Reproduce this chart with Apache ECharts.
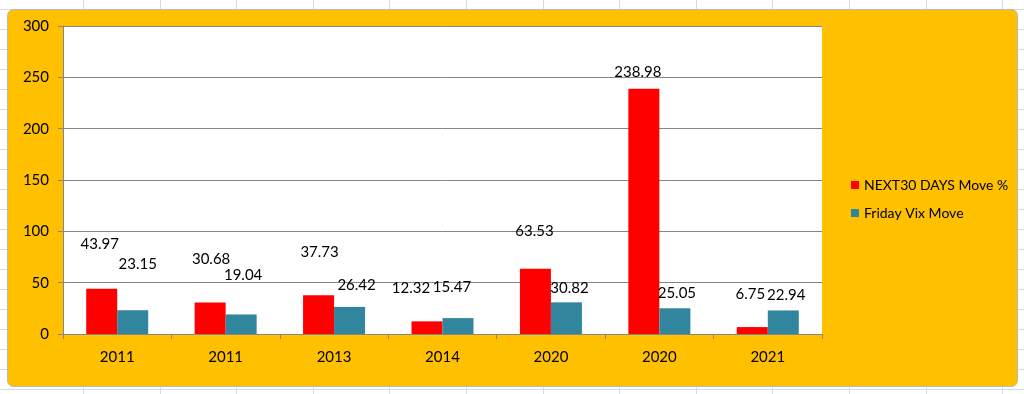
<!DOCTYPE html>
<html>
<head>
<meta charset="utf-8">
<script src="https://cdn.jsdelivr.net/npm/echarts@6/dist/echarts.min.js"></script>
<style>
html,body{margin:0;padding:0;background:#fff;}
#chart{width:1024px;height:394px;}
</style>
</head>
<body>
<div id="chart"></div>
<script>
// ---- data ----
const categories = ['2011', '2011', '2013', '2014', '2020', '2020', '2021'];
const next30Move = [43.97, 30.68, 37.73, 12.32, 63.53, 238.98, 6.75];
const fridayVixMove = [23.15, 19.04, 26.42, 15.47, 30.82, 25.05, 22.94];
const seriesNames = ['NEXT30 DAYS Move %', 'Friday Vix Move'];
const yTicks = { min: 0, max: 300, interval: 50 };

// ---- label placement tweaks (style only, pixels) ----
const next30LabelOffsets = [[-2,-32],[1,-31],[1,-31],[-16,-21],[-1,-25],[-6,-4],[-2,-20]];
const vixLabelOffsets = [[5,-34],[2,-27],[7,-9],[-6,-18],[3,-2],[2,-3],[3,-3]];

const FONT = 'Lato, "Open Sans", sans-serif';
const chart = echarts.init(document.getElementById('chart'), null, {renderer: 'canvas'});

// spreadsheet background lines
const sheetLines = [];
for (let x = 83; x < 1024; x += 76.6) {
  sheetLines.push({type: 'line', z: -30, silent: true,
    shape: {x1: Math.round(x) + 0.5, y1: 0, x2: Math.round(x) + 0.5, y2: 394},
    style: {stroke: '#d4dbe6', lineWidth: 1}});
}
for (let y = 9; y < 394; y += 20) {
  sheetLines.push({type: 'line', z: -30, silent: true,
    shape: {x1: 0, y1: y + 0.5, x2: 1024, y2: y + 0.5},
    style: {stroke: '#d4dbe6', lineWidth: 1}});
}

function mkData(vals, offs) {
  return vals.map((v, i) => ({value: v, label: {offset: offs[i]}}));
}

chart.setOption({
  animation: false,
  backgroundColor: '#ffffff',
  textStyle: {fontFamily: FONT},
  graphic: [
    ...sheetLines,
    {type: 'rect', z: -20, silent: true,
      shape: {x: 7.5, y: 9.5, width: 1010, height: 377, r: 6},
      style: {fill: '#FFC000', stroke: '#b9b9b9', lineWidth: 1}}
  ],
  grid: {left: 63, top: 26, right: 202, bottom: 60, show: true,
    backgroundColor: '#ffffff', borderWidth: 0},
  legend: {
    orient: 'vertical', left: 846, top: 173,
    itemWidth: 8, itemHeight: 8, itemGap: 14, icon: 'rect',
    textStyle: {fontSize: 14, color: '#000', fontFamily: FONT},
    data: seriesNames
  },
  xAxis: {
    type: 'category', data: categories,
    axisLine: {lineStyle: {color: '#868686', width: 1}},
    axisTick: {show: true, length: 5, alignWithLabel: false, lineStyle: {color: '#868686'}},
    axisLabel: {color: '#000', fontSize: 15, margin: 16, fontFamily: FONT},
    splitLine: {show: false}
  },
  yAxis: {
    type: 'value', min: yTicks.min, max: yTicks.max, interval: yTicks.interval,
    axisLine: {show: true, lineStyle: {color: '#868686', width: 1}},
    axisTick: {show: true, length: 5, lineStyle: {color: '#868686'}},
    axisLabel: {color: '#000', fontSize: 15, margin: 14, fontFamily: FONT},
    splitLine: {lineStyle: {color: '#868686', width: 1}}
  },
  series: [
    {name: seriesNames[0], type: 'bar', data: mkData(next30Move, next30LabelOffsets),
      barWidth: 31, barGap: '0%', itemStyle: {color: '#FF0000'},
      label: {show: true, position: 'top', color: '#000', fontSize: 15, fontFamily: FONT}},
    {name: seriesNames[1], type: 'bar', data: mkData(fridayVixMove, vixLabelOffsets),
      barWidth: 31, barGap: '0%', itemStyle: {color: '#31859C'},
      label: {show: true, position: 'top', color: '#000', fontSize: 15, fontFamily: FONT}}
  ]
});
</script>
</body>
</html>
